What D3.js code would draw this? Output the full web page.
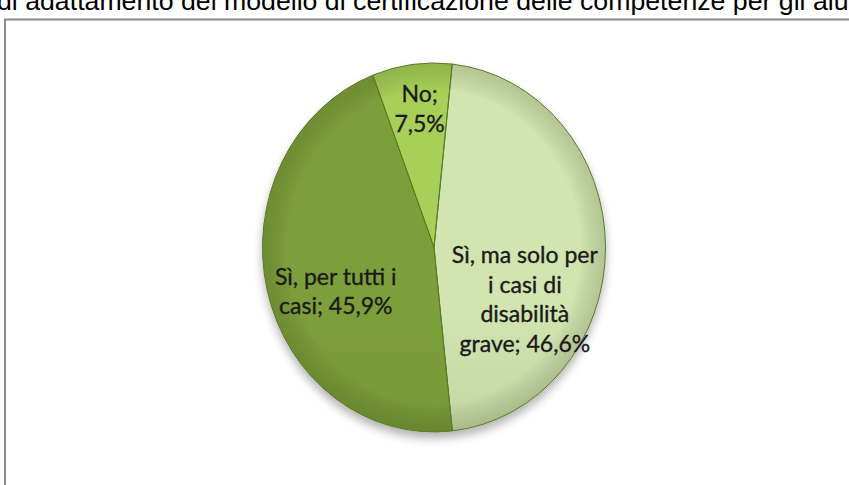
<!DOCTYPE html>
<html>
<head>
<meta charset="utf-8">
<script src="https://cdn.jsdelivr.net/npm/d3@7"></script>
<style>
  html, body { margin: 0; padding: 0; background: #fff; overflow: hidden; }
  svg { display: block; }
</style>
</head>
<body>
<svg id="chart" width="849" height="485"></svg>
<script>
// ---- data ----
const categories = ["Sì, ma solo per i casi di disabilità grave", "Sì, per tutti i casi", "No"];
const values = [46.6, 45.9, 7.5];
const labelLines = [
  ["Sì, ma solo per", "i casi di", "disabilità", "grave; 46,6%"],
  ["Sì, per tutti i", "casi; 45,9%"],
  ["No;", "7,5%"]
];
const titleText = "Necessità di adattamento del modello di certificazione delle competenze per gli alunni con disabilità";
const titleVisibleEnd = "per gli alu";

// ---- layout / style ----
const W = 849, H = 485;
const cx = 434, cy = 247.5, ry = 184.5, rx = 171.5;
const startDeg = 6.1;
const colorsTop = ["#d2e4b0", "#7d9f3b", "#a8cf58"];
const colorsBot = ["#a6bc88", "#678a2c", "#8db83e"];
const labelAngleShift = [28, -9, 1];
const labelRadius = [0.60, 0.62, 0.755];
const lineH = 29.5;

const svg = d3.select("#chart");
const defs = svg.append("defs");

// drop shadow
const f = defs.append("filter").attr("id", "shadow").attr("x", "-20%").attr("y", "-20%").attr("width", "140%").attr("height", "140%");
f.append("feGaussianBlur").attr("in", "SourceAlpha").attr("stdDeviation", 5).attr("result", "b");
f.append("feOffset").attr("in", "b").attr("dx", 0).attr("dy", 6).attr("result", "o");
f.append("feComponentTransfer").attr("in", "o").attr("result", "o2")
  .append("feFuncA").attr("type", "linear").attr("slope", 0.3);
const fm = f.append("feMerge");
fm.append("feMergeNode").attr("in", "o2");
fm.append("feMergeNode").attr("in", "SourceGraphic");

values.forEach((v, i) => {
  const g = defs.append("linearGradient").attr("id", "grad" + i)
    .attr("gradientUnits", "userSpaceOnUse")
    .attr("x1", 0).attr("y1", cy - ry).attr("x2", 0).attr("y2", cy + ry);
  g.append("stop").attr("offset", "0%").attr("stop-color", colorsTop[i]);
  g.append("stop").attr("offset", "100%").attr("stop-color", colorsBot[i]);
});
// bevel-like rim darkening
const rg = defs.append("radialGradient").attr("id", "rim")
  .attr("gradientUnits", "userSpaceOnUse")
  .attr("cx", 0).attr("cy", 0).attr("r", ry);
rg.append("stop").attr("offset", "85%").attr("stop-color", "#000").attr("stop-opacity", 0);
rg.append("stop").attr("offset", "100%").attr("stop-color", "#2a3a10").attr("stop-opacity", 0.18);

// frame
svg.append("rect").attr("x", 5).attr("y", 19.5).attr("width", W + 10).attr("height", H + 10)
  .attr("fill", "#fff").attr("stroke", "#8a8a8a").attr("stroke-width", 2);

// title (clipped at top of picture)
const title = svg.append("text").attr("x", -3).attr("y", 10)
  .attr("font-family", "Liberation Sans, Arial, sans-serif")
  .attr("font-size", 22).attr("fill", "#000");
const vis = titleText.slice(titleText.indexOf("di adattamento"));
title.text(vis.slice(0, vis.indexOf(titleVisibleEnd) + titleVisibleEnd.length));
const fs = 22 * 852 / title.node().getComputedTextLength();
title.attr("font-size", fs).text(vis);

// pie
const rad = d => d * Math.PI / 180;
const pie = d3.pie().sort(null).value(d => d)
  .startAngle(rad(startDeg)).endAngle(rad(startDeg) + 2 * Math.PI);
const arcs = pie(values);
const arc = d3.arc().innerRadius(0).outerRadius(ry);

const pg = svg.append("g").attr("filter", "url(#shadow)");
const gPie = pg.append("g")
  .attr("transform", `translate(${cx},${cy}) scale(${rx / ry},1)`);

gPie.selectAll("path.slice").data(arcs).enter().append("path")
  .attr("class", "slice")
  .attr("d", arc)
  .attr("fill", (d, i) => `url(#grad${i})`);
gPie.selectAll("path.rim").data(arcs).enter().append("path")
  .attr("class", "rim")
  .attr("d", arc)
  .attr("fill", "url(#rim)")
  .attr("stroke", "#5a7a26")
  .attr("stroke-width", 1)
  .attr("vector-effect", "non-scaling-stroke");

// labels
const lab = svg.append("g")
  .attr("font-family", "Lato, 'Open Sans', sans-serif")
  .attr("font-size", 23).attr("fill", "#1a1a1a")
  .attr("stroke", "#1a1a1a").attr("stroke-width", 0.35)
  .attr("text-anchor", "middle");

arcs.forEach((a, i) => {
  const mid = (a.startAngle + a.endAngle) / 2 + rad(labelAngleShift[i]);
  const lx = cx + Math.sin(mid) * rx * labelRadius[i];
  const ly = cy - Math.cos(mid) * ry * labelRadius[i];
  const lines = labelLines[i];
  const t = lab.append("text").attr("x", lx).attr("y", ly);
  lines.forEach((s, k) => {
    t.append("tspan").attr("x", lx)
      .attr("y", ly + (k - (lines.length - 1) / 2) * lineH)
      .attr("dy", "0.35em")
      .text(s);
  });
});
</script>
</body>
</html>
